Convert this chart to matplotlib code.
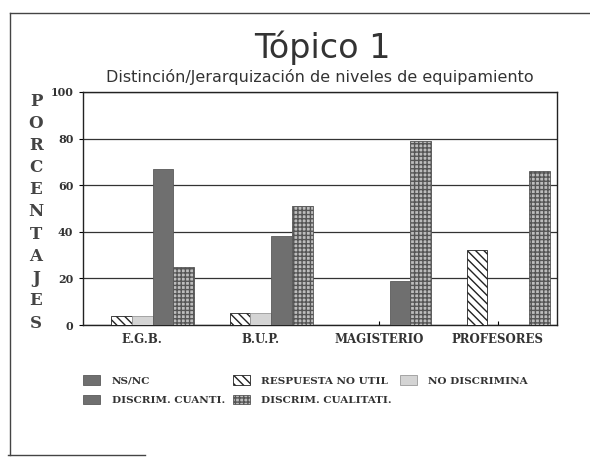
import matplotlib
matplotlib.use('Agg')
import matplotlib.pyplot as plt
from matplotlib.lines import Line2D
from matplotlib.patches import Patch
import numpy as np

groups = ['E.G.B.', 'B.U.P.', 'MAGISTERIO', 'PROFESORES']
series = ['NS/NC', 'RESPUESTA NO UTIL', 'NO DISCRIMINA', 'DISCRIM. CUANTI.', 'DISCRIM. CUALITATI.']
ns_nc = [0, 0, 0, 0]
resp_no_util = [4, 5, 0, 32]
no_discrimina = [4, 5, 0, 0]
discrim_cuanti = [67, 38, 19, 0]
discrim_cualitati = [25, 51, 79, 66]
yticks = [0, 20, 40, 60, 80, 100]

values = [ns_nc, resp_no_util, no_discrimina, discrim_cuanti, discrim_cualitati]
faces = ['#6f6f6f', 'white', '#d4d4d4', '#6f6f6f', '#bdbdbd']
hatches = [None, '\\\\\\\\', None, None, '++++']
edges = ['#5a5a5a', '#222222', '#999999', '#5a5a5a', '#555555']

serif = 'DejaVu Serif'

fig = plt.figure(figsize=[5.9, 4.66], dpi=100)
ax = fig.add_axes([83/590, 1-325/466, 474/590, 233/466])

x = np.arange(len(groups)) + 0.5
w = 0.175
for i in range(len(series)):
    ax.bar(x + (i-2)*w, values[i], width=w, color=faces[i], hatch=hatches[i],
           edgecolor=edges[i], linewidth=0.6, zorder=3)

ax.set_xlim(0, 4)
ax.set_ylim(0, 100)
ax.set_yticks(yticks)
ax.yaxis.grid(True, color='#333333', linewidth=0.9, zorder=0)
for s in ax.spines.values():
    s.set_linewidth(1.0)
    s.set_color('#222222')
ax.set_xticks(x)
ax.set_xticklabels(groups, fontsize=8.5, family=serif, weight='bold', color='#333333')
ax.set_yticklabels([str(v) for v in yticks], fontsize=8, family=serif, weight='bold', color='#333333')
ax.tick_params(axis='x', direction='in', length=3, pad=6)
ax.tick_params(axis='y', direction='out', length=3, pad=4)

# title
fig.text(322/590, 1-58/466, 'Tópico 1', fontsize=24, ha='center', va='baseline', color='#333333')
fig.text(320/590, 1-82/466, 'Distinción/Jerarquización de niveles de equipamiento',
         fontsize=11.5, ha='center', va='baseline', color='#333333')

# vertical ylabel
for k, ch in enumerate('PORCENTAJES'):
    fig.text(36/590, 1-(101 + k*22.2)/466, ch, fontsize=12, family=serif, weight='bold',
             ha='center', va='center', color='#444444')

# legend
order = [0, 3, 1, 4, 2]
handles = [Patch(facecolor=faces[i], hatch=hatches[i], edgecolor=edges[i], linewidth=0.6) for i in order]
labels = [series[i] for i in order]
fig.legend(handles, labels, loc='upper left', bbox_to_anchor=(74/590, 1-366/466), ncol=3,
           frameon=False, prop={'family': serif, 'weight': 'bold', 'size': 7.5},
           handlelength=1.6, handleheight=1.0, handletextpad=1.1, columnspacing=0.8,
           labelspacing=0.9, labelcolor='#333333')

# page frame
fig.add_artist(Line2D([10/590, 10/590], [1-455/466, 1-13/466], color='#444444', lw=1))
fig.add_artist(Line2D([10/590, 1.0], [1-13/466, 1-13/466], color='#444444', lw=1))
fig.add_artist(Line2D([8/590, 145/590], [1-455/466, 1-455/466], color='#444444', lw=1))

plt.savefig('out.png', dpi=100)
plt.close(fig)
